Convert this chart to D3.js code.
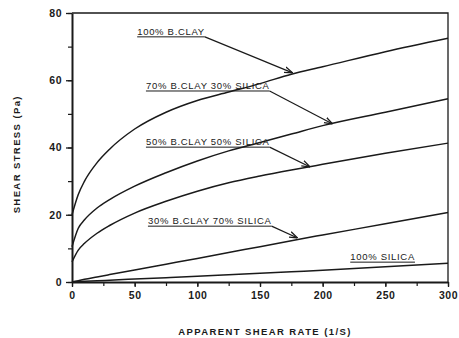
<!DOCTYPE html>
<html>
<head>
<meta charset="utf-8">
<script src="https://cdn.jsdelivr.net/npm/d3@7"></script>
<style>
  body { margin: 0; background: #fff; }
  svg { font-family: "Liberation Sans", Arial, sans-serif; }
</style>
</head>
<body>
<svg id="chart"></svg>
<script>
const rates = [0, 5, 10, 20, 30, 50, 75, 100, 125, 150, 175, 200, 250, 300];
const clay100 = [20, 26, 30, 35.5, 39.5, 45.5, 50.5, 54, 56.5, 59, 61.8, 64, 68.5, 72.5];
const clay70 = [10.5, 16, 18.5, 22, 24.5, 28.5, 32.5, 36, 39, 41.5, 44, 46.5, 50.5, 54.5];
const clay50 = [6, 9.5, 11.5, 14.5, 16.8, 20.5, 24, 27, 29.5, 31.5, 33.3, 35, 38.3, 41.3];
const clay30 = [0, 0.4, 0.8, 1.5, 2.2, 3.6, 5.3, 7, 8.8, 10.5, 12.3, 14, 17.3, 20.7];
const silica = [0, 0.1, 0.2, 0.35, 0.55, 0.9, 1.3, 1.7, 2.15, 2.6, 3.05, 3.5, 4.5, 5.6];

const xTicks = [0, 50, 100, 150, 200, 250, 300];
const yTicks = [0, 20, 40, 60, 80];

// label text, label anchor (rate, stress), arrow tip (rate, stress) or null
const labels = ["100% B.CLAY", "70% B.CLAY 30% SILICA", "50% B.CLAY 50% SILICA", "30% B.CLAY 70% SILICA", "100% SILICA"];
const labelPos = [[52, 73.5], [59, 57.4], [59, 40.7], [60.6, 17.2], [222, 6.5]];
const arrowTips = [[176, 62.2], [208, 47], [190, 34.2], [180, 13.1], null];

const series = [clay100, clay70, clay50, clay30, silica];

const width = 459, height = 338;
const margin = {top: 13, right: 11, bottom: 56, left: 72};

const svg = d3.select("#chart")
              .attr("width", width)
              .attr("height", height);

const x = d3.scaleLinear()
            .domain([0, 300])
            .range([margin.left, width - margin.right]);

const y = d3.scaleLinear()
            .domain([0, 80])
            .range([height - margin.bottom, margin.top]);

const ink = "#1a1a1a";

// frame top & right
svg.append("path")
   .attr("d", `M${x(0)},${y(80)}H${x(300)}V${y(0)}`)
   .attr("fill", "none")
   .attr("stroke", ink)
   .attr("stroke-width", 1.3);

// minor ticks
svg.append("g")
   .attr("transform", `translate(0, ${y(0)})`)
   .call(d3.axisBottom(x).tickValues(d3.range(0, 301, 25)).tickSize(4).tickFormat(""))
   .call(g => g.select(".domain").remove())
   .selectAll("line").attr("stroke", ink).attr("stroke-width", 1.2);

svg.append("g")
   .attr("transform", `translate(${x(0)}, 0)`)
   .call(d3.axisLeft(y).tickValues(d3.range(0, 81, 10)).tickSize(4).tickFormat(""))
   .call(g => g.select(".domain").remove())
   .selectAll("line").attr("stroke", ink).attr("stroke-width", 1.2);

// major axes
const xAxis = svg.append("g")
   .attr("transform", `translate(0, ${y(0)})`)
   .call(d3.axisBottom(x).tickValues(xTicks).tickSize(5).tickSizeOuter(0).tickPadding(5));

const yAxis = svg.append("g")
   .attr("transform", `translate(${x(0)}, 0)`)
   .call(d3.axisLeft(y).tickValues(yTicks).tickSize(6).tickSizeOuter(0).tickPadding(4));

[xAxis, yAxis].forEach(g => {
    g.select(".domain").attr("stroke", ink).attr("stroke-width", 2);
    g.selectAll("line").attr("stroke", ink).attr("stroke-width", 1.3);
    g.selectAll("text")
     .attr("fill", ink)
     .attr("font-size", "10.5px")
     .attr("font-weight", "bold")
     .attr("letter-spacing", "0.5px")
     .attr("font-family", "Liberation Sans, Arial, sans-serif");
});

// curves
const line = d3.line()
               .x(d => x(d[0]))
               .y(d => y(d[1]))
               .curve(d3.curveMonotoneX);

series.forEach(vals => {
    svg.append("path")
       .datum(rates.map((r, i) => [r, vals[i]]))
       .attr("d", line)
       .attr("fill", "none")
       .attr("stroke", ink)
       .attr("stroke-width", 1.5);
});

// arrow marker
svg.append("defs").append("marker")
   .attr("id", "arrow")
   .attr("viewBox", "0 0 10 10")
   .attr("refX", 10)
   .attr("refY", 5)
   .attr("markerWidth", 7)
   .attr("markerHeight", 7)
   .attr("orient", "auto")
   .append("path")
   .attr("d", "M0,1.5L10,5L0,8.5")
   .attr("fill", "none")
   .attr("stroke", ink)
   .attr("stroke-width", 1.5);

// labels
labels.forEach((txt, i) => {
    const lx = x(labelPos[i][0]), ly = y(labelPos[i][1]);
    const t = svg.append("text")
       .attr("x", lx)
       .attr("y", ly)
       .attr("font-size", "9.5px")
       .attr("letter-spacing", "0.7px")
       .attr("fill", ink)
       .text(txt);
    const w = t.node().getComputedTextLength();
    svg.append("line")
       .attr("x1", lx).attr("x2", lx + w)
       .attr("y1", ly + 2).attr("y2", ly + 2)
       .attr("stroke", ink)
       .attr("stroke-width", 1);
    if (arrowTips[i]) {
        svg.append("line")
           .attr("x1", lx + w)
           .attr("y1", ly + 2)
           .attr("x2", x(arrowTips[i][0]))
           .attr("y2", y(arrowTips[i][1]))
           .attr("stroke", ink)
           .attr("stroke-width", 1.2)
           .attr("marker-end", "url(#arrow)");
    }
});

// axis titles
svg.append("text")
   .attr("x", (x(0) + x(300)) / 2 + 5)
   .attr("y", 335)
   .attr("text-anchor", "middle")
   .attr("font-size", "9.5px")
   .attr("font-weight", "bold")
   .attr("letter-spacing", "1.4px")
   .attr("fill", ink)
   .text("APPARENT SHEAR RATE (1/S)");

svg.append("text")
   .attr("transform", `translate(20, ${y(38)}) rotate(-90)`)
   .attr("text-anchor", "middle")
   .attr("font-size", "9.5px")
   .attr("font-weight", "bold")
   .attr("letter-spacing", "1.4px")
   .attr("fill", ink)
   .text("SHEAR STRESS (Pa)");
</script>
</body>
</html>
